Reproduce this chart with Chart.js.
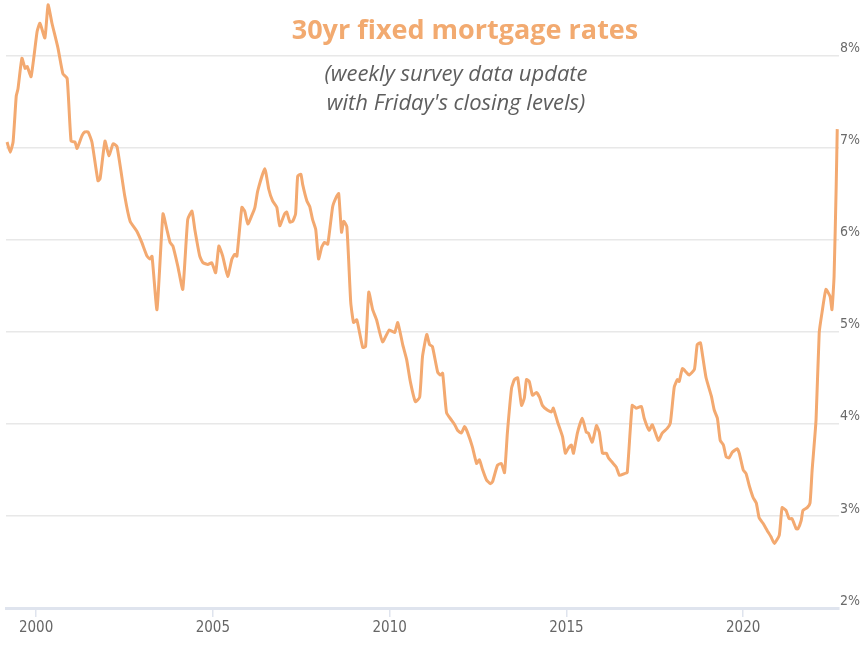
<!DOCTYPE html>
<html>
<head>
<meta charset="utf-8">
<script src="https://cdn.jsdelivr.net/npm/chart.js@4"></script>
<style>
  html, body { margin: 0; padding: 0; background: #fff; }
  #wrap { position: relative; width: 861px; height: 645px; }
  #title {
    position: absolute; left: 0; width: 930px; top: 10px;
    text-align: center; font: bold 27px "Open Sans", sans-serif; color: #f2aa70;
  }
  #subtitle {
    position: absolute; left: 0; width: 912px; top: 58px;
    text-align: center; font: italic 22px "Open Sans", sans-serif; color: #5e5e5e; line-height: 29px;
  }
</style>
</head>
<body>
<div id="wrap">
  <canvas id="myChart" width="861" height="645"></canvas>
  <div id="title">30yr fixed mortgage rates</div>
  <div id="subtitle">(weekly survey data update<br>with Friday's closing levels)</div>
</div>
<script>
// decimal year of each reading
const t = [
  1999.18, 1999.27, 1999.35, 1999.44, 1999.49, 1999.60, 1999.69, 1999.75, 1999.86,
  2000.03, 2000.11, 2000.25, 2000.34, 2000.45, 2000.62, 2000.76, 2000.88, 2000.99,
  2001.10, 2001.16, 2001.30, 2001.38, 2001.47, 2001.58, 2001.75, 2001.81, 2001.95,
  2002.06, 2002.18, 2002.29, 2002.51, 2002.66, 2002.85, 2002.99,
  2003.14, 2003.22, 2003.28, 2003.42, 2003.59, 2003.70, 2003.79, 2003.87,
  2004.01, 2004.15, 2004.29, 2004.41, 2004.49, 2004.63, 2004.72, 2004.86, 2004.97,
  2005.08, 2005.17, 2005.28, 2005.42, 2005.54, 2005.62, 2005.68, 2005.82, 2005.90, 2005.99,
  2006.10, 2006.19, 2006.27, 2006.47, 2006.58, 2006.69, 2006.81, 2006.89,
  2007.03, 2007.09, 2007.18, 2007.26, 2007.34, 2007.40, 2007.49, 2007.54, 2007.66, 2007.74, 2007.82, 2007.91, 2007.99,
  2008.08, 2008.16, 2008.25, 2008.39, 2008.50, 2008.56, 2008.64, 2008.70, 2008.79, 2008.90, 2008.98,
  2009.07, 2009.15, 2009.24, 2009.32, 2009.41, 2009.52, 2009.63, 2009.80, 2009.99,
  2010.14, 2010.23, 2010.37, 2010.48, 2010.59, 2010.73, 2010.85, 2010.93,
  2011.05, 2011.13, 2011.21, 2011.36, 2011.44, 2011.50, 2011.61, 2011.75, 2011.84, 2011.92,
  2012.03, 2012.12, 2012.20, 2012.34, 2012.46, 2012.54, 2012.63, 2012.74, 2012.85, 2012.91,
  2013.05, 2013.16, 2013.25, 2013.33, 2013.45, 2013.53, 2013.62, 2013.73, 2013.81, 2013.87, 2013.95,
  2014.04, 2014.15, 2014.24, 2014.32, 2014.46, 2014.58, 2014.63, 2014.75, 2014.89, 2014.97,
  2015.06, 2015.14, 2015.20, 2015.31, 2015.45, 2015.56, 2015.62, 2015.73, 2015.85, 2015.93,
  2016.02, 2016.13, 2016.19, 2016.30, 2016.41, 2016.50, 2016.64, 2016.72, 2016.86, 2016.97,
  2017.12, 2017.20, 2017.34, 2017.43, 2017.60, 2017.71, 2017.85, 2017.94,
  2018.05, 2018.14, 2018.19, 2018.28, 2018.39, 2018.47, 2018.62, 2018.70, 2018.79, 2018.84, 2018.95,
  2019.10, 2019.18, 2019.27, 2019.35, 2019.44, 2019.52, 2019.60, 2019.69, 2019.83, 2019.89,
  2020.00, 2020.08, 2020.17, 2020.28, 2020.37, 2020.45, 2020.56, 2020.68, 2020.79, 2020.88,
  2021.02, 2021.10, 2021.21, 2021.30, 2021.38, 2021.50, 2021.55, 2021.64, 2021.69, 2021.81, 2021.89, 2021.95,
  2022.06, 2022.15, 2022.23, 2022.34, 2022.46, 2022.51, 2022.57, 2022.63, 2022.66
];

// 30yr fixed rate, %
const rate = [
  7.06, 6.95, 7.06, 7.56, 7.64, 7.97, 7.86, 7.88, 7.77,
  8.26, 8.35, 8.19, 8.55, 8.35, 8.08, 7.80, 7.75, 7.07,
  7.06, 6.99, 7.13, 7.17, 7.17, 7.06, 6.64, 6.66, 7.07,
  6.91, 7.04, 7.01, 6.47, 6.20, 6.09, 5.97,
  5.82, 5.79, 5.82, 5.24, 6.28, 6.11, 5.97, 5.93,
  5.71, 5.46, 6.22, 6.31, 6.11, 5.82, 5.75, 5.73, 5.75,
  5.64, 5.93, 5.82, 5.60, 5.79, 5.84, 5.82, 6.35, 6.31, 6.17,
  6.26, 6.35, 6.53, 6.77, 6.55, 6.42, 6.35, 6.15,
  6.28, 6.30, 6.19, 6.20, 6.28, 6.69, 6.71, 6.60, 6.42, 6.36, 6.22, 6.11, 5.79,
  5.92, 5.97, 5.95, 6.36, 6.47, 6.50, 6.08, 6.20, 6.14, 5.32, 5.10,
  5.13, 4.99, 4.83, 4.84, 5.43, 5.24, 5.13, 4.89, 5.02,
  4.99, 5.10, 4.86, 4.70, 4.45, 4.24, 4.29, 4.73,
  4.97, 4.86, 4.84, 4.56, 4.53, 4.55, 4.12, 4.04, 3.99, 3.93,
  3.90, 3.97, 3.91, 3.75, 3.57, 3.61, 3.50, 3.39, 3.35, 3.37,
  3.55, 3.57, 3.47, 3.90, 4.39, 4.48, 4.50, 4.20, 4.28, 4.48, 4.46,
  4.31, 4.34, 4.29, 4.20, 4.15, 4.13, 4.17, 4.02, 3.86, 3.68,
  3.74, 3.77, 3.68, 3.90, 4.06, 3.91, 3.90, 3.80, 3.98, 3.91,
  3.68, 3.68, 3.63, 3.58, 3.53, 3.44, 3.46, 3.47, 4.20, 4.17,
  4.19, 4.06, 3.93, 3.99, 3.82, 3.90, 3.95, 4.01,
  4.40, 4.48, 4.46, 4.60, 4.56, 4.53, 4.59, 4.86, 4.88, 4.77, 4.50,
  4.30, 4.15, 4.06, 3.82, 3.77, 3.64, 3.63, 3.69, 3.73, 3.68,
  3.50, 3.46, 3.33, 3.20, 3.14, 2.98, 2.92, 2.84, 2.77, 2.70,
  2.79, 3.09, 3.06, 2.97, 2.97, 2.86, 2.86, 2.95, 3.06, 3.09, 3.14, 3.50,
  4.04, 4.99, 5.21, 5.46, 5.38, 5.24, 5.60, 6.58, 7.20
];

const yearTicks = [2000, 2005, 2010, 2015, 2020];
const rateTicks = [2, 3, 4, 5, 6, 7, 8];

const points = t.map((x, i) => ({ x: x, y: rate[i] }));
const labelFont = { family: "'DejaVu Sans Condensed', 'DejaVu Sans', sans-serif", size: 15 };

const ctx = document.getElementById("myChart").getContext("2d");
new Chart(ctx, {
  type: "line",
  data: {
    datasets: [{
      label: "30yr fixed",
      data: points,
      borderColor: "#f3a970",
      borderWidth: 3,
      pointRadius: 0,
      tension: 0.15,
      fill: false,
      clip: false
    }]
  },
  options: {
    responsive: false,
    animation: false,
    layout: { padding: { left: 6, right: 0, top: 0, bottom: 6 } },
    plugins: { legend: { display: false }, tooltip: { enabled: false } },
    scales: {
      x: {
        type: "linear",
        min: 1999.15,
        max: 2022.71,
        afterBuildTicks: scale => { scale.ticks = yearTicks.map(v => ({ value: v })); },
        grid: { drawOnChartArea: false, drawTicks: true, tickLength: 9, color: "#dfe4ee", lineWidth: 1.5 },
        border: { display: true, color: "#dfe4ee", width: 3 },
        ticks: { color: "#666", font: labelFont, padding: 2, maxRotation: 0, callback: v => String(v) }
      },
      y: {
        position: "right",
        min: 2,
        max: 8.5,
        afterBuildTicks: scale => { scale.ticks = rateTicks.map(v => ({ value: v })); },
        grid: { drawTicks: false, color: "#e8e8e8", lineWidth: 1.5 },
        border: { display: false },
        ticks: { color: "#6a6a6a", font: { ...labelFont, size: 14 }, padding: 1, labelOffset: -7, callback: v => v + "%" }
      }
    }
  }
});
</script>
</body>
</html>
